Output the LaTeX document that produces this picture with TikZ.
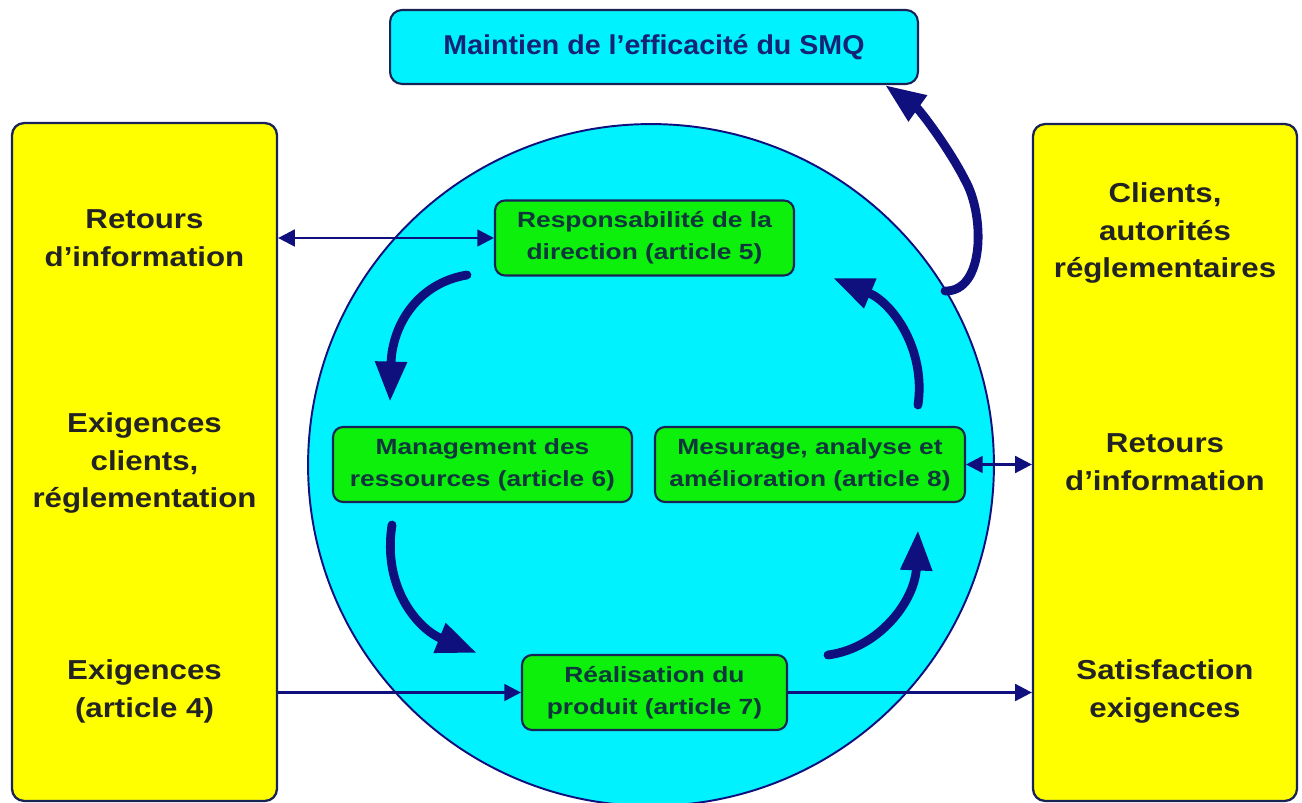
\documentclass[tikz,border=0pt]{standalone}
\usepackage{fontspec}
\setmainfont{Liberation Sans}
\newfontfamily\fontY[FakeStretch=1.14]{Liberation Sans}
\newfontfamily\fontG[FakeStretch=1.2]{Liberation Sans}
\newfontfamily\fontT[FakeStretch=1.05]{Liberation Sans}
\usetikzlibrary{positioning,arrows.meta}

\definecolor{jaune}{RGB}{255,255,0}
\definecolor{ciel}{RGB}{0,242,255}
\definecolor{vert}{RGB}{12,240,12}
\definecolor{marine}{RGB}{15,15,125}
\definecolor{bord}{RGB}{25,35,85}
\definecolor{gris}{RGB}{35,35,35}
\definecolor{texteG}{RGB}{15,55,60}
\definecolor{texteT}{RGB}{20,35,115}

\begin{document}
\begin{tikzpicture}[
        x=0.02cm, y=-0.02cm,
        >={Triangle[length=9.5pt,width=9.5pt]},
        Y/.style={draw=bord, fill=jaune, line width=1.3pt, rounded corners=0.24cm, minimum width=5.3cm, minimum height=13.56cm, inner sep=0pt},
        YT/.style={align=center, text=gris, font=\fontY\bfseries\fontsize{15.6}{21.6}\selectfont},
        G/.style={draw=bord, fill=vert, line width=1.2pt, rounded corners=0.2cm, minimum height=1.5cm, inner sep=0pt, align=center, text=texteG, font=\fontG\bfseries\fontsize{12.5}{18.2}\selectfont},
        T/.style={draw=bord, fill=ciel, line width=1.2pt, rounded corners=0.24cm, minimum width=10.56cm, minimum height=1.48cm, text=texteT, font=\fontT\bfseries\fontsize{15.5}{18}\selectfont},
        Fl/.style={draw=marine, line width=1.5pt},
        Cy/.style={draw=marine, line width=5pt, line cap=round, -{Triangle[length=23pt,width=17pt]}}
    ]
    \clip (0,0) rectangle (1302,803);
    \fill[white] (0,0) rectangle (1302,803);

    % circle
    \draw[fill=ciel, draw=marine, line width=1.1pt] (651,465) ellipse [x radius=6.86cm, y radius=6.82cm];

    % yellow boxes
    \node[Y]      (lb)  at (144.5,462)   {};
    \node[Y, minimum width=5.28cm, minimum height=13.54cm] (rb) at (1165,462.5) {};

    \node[YT]     (l1)  at (144.5,238)   {Retours\\d’information};
    \node[YT]     (l2)  at (144.5,463)   {Exigences\\clients,\\réglementation};
    \node[YT]     (l3)  at (144.5,691)   {Exigences\\(article 4)};
    \node[YT]     (r1)  at (1165,233)    {Clients,\\autorités\\réglementaires};
    \node[YT]     (r2)  at (1165,462)    {Retours\\d’information};
    \node[YT]     (r3)  at (1165,691)    {Satisfaction\\exigences};

    % top box
    \node[T]      (smq) at (654,47)      {Maintien de l’efficacité du SMQ};

    % green boxes
    \node[G, minimum width=5.98cm] (a5) at (644.5,238)   {Responsabilité de la\\direction (article 5)};
    \node[G, minimum width=5.98cm] (a6) at (482.5,464.5) {Management des\\ressources (article 6)};
    \node[G, minimum width=6.2cm]  (a8) at (810,464.5)   {Mesurage, analyse et\\amélioration (article 8)};
    \node[G, minimum width=5.3cm]  (a7) at (654.5,692.5) {Réalisation du\\produit (article 7)};

    \draw[Fl,<->] (a5.west -| lb.east) -- (a5.west);
    \draw[Fl,<->] (a8.east) -- (a8.east -| rb.west);
    \draw[Fl,->]  (a7.west -| lb.east) -- (a7.west);
    \draw[Fl,->]  (a7.east) -- (a7.east -| rb.west);

    % cycle
    \coordinate (c1) at (467,275);
    \coordinate (c2) at (390,402);
    \coordinate (c3) at (392,525);
    \coordinate (c4) at (477,653);
    \coordinate (c5) at (828,655);
    \coordinate (c6) at (918,530);
    \coordinate (c7) at (918,405);
    \coordinate (c8) at (833,278);
    \coordinate (c9) at (945,291);

    \draw[Cy] (c1) .. controls (418,283) and (392,325) .. (c2);
    \draw[Cy] (c3) .. controls (382,590) and (420,630) .. (c4);
    \draw[Cy] (c5) .. controls (880,648) and (915,600) .. (c6);
    \draw[Cy] (c7) .. controls (926,350) and (893,303) .. (c8);
    \draw[Cy] (c9) .. controls (985,292) and (985,215) .. (965,180)
                   .. controls (950,150) and (920,110) .. (smq.south east -| 885,0);
\end{tikzpicture}
\end{document}
